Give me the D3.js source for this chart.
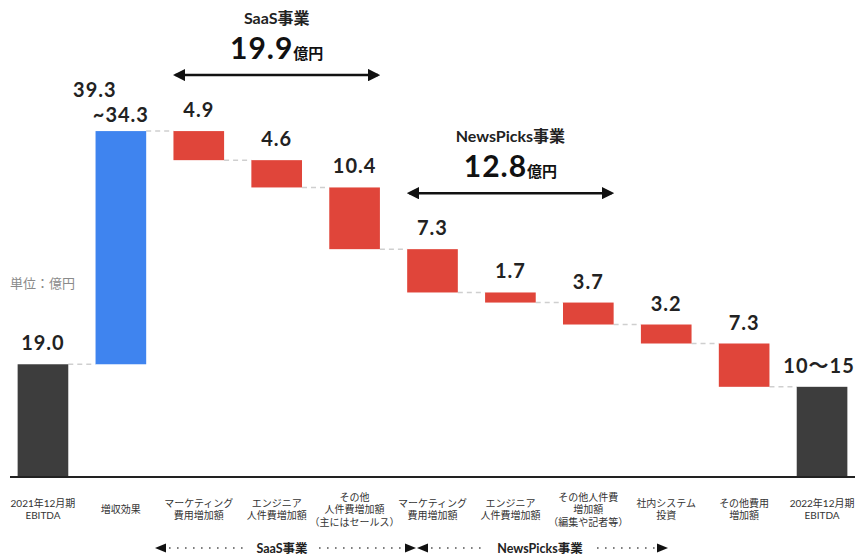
<!DOCTYPE html>
<html>
<head>
<meta charset="utf-8">
<script src="https://cdn.jsdelivr.net/npm/d3@7"></script>
<style>
  body { margin: 0; background: #fff; }
  text { font-family: "Lato", "Noto Sans CJK JP", sans-serif; }
</style>
</head>
<body>
<div id="chart"></div>
<script>
// category labels (one array per bar, one entry per line)
const categories = [
  ["2021年12月期", "EBITDA"],
  ["増収効果"],
  ["マーケティング", "費用増加額"],
  ["エンジニア", "人件費増加額"],
  ["その他", "人件費増加額", "（主にはセールス）"],
  ["マーケティング", "費用増加額"],
  ["エンジニア", "人件費増加額"],
  ["その他人件費", "増加額", "（編集や記者等）"],
  ["社内システム", "投資"],
  ["その他費用", "増加額"],
  ["2022年12月期", "EBITDA"]
];
// kind of each bar
const kinds = ["total", "up", "down", "down", "down", "down", "down", "down", "down", "down", "total"];
// change per bar (億円); first is the starting total, last is computed
const values = [19.0, 39.3, -4.9, -4.6, -10.4, -7.3, -1.7, -3.7, -3.2, -7.3, null];
// labels printed above bars
const valueLabels = [["19.0"], ["39.3", "~34.3"], ["4.9"], ["4.6"], ["10.4"], ["7.3"], ["1.7"], ["3.7"], ["3.2"], ["7.3"], ["10～15"]];

// segment annotations
const segments = [
  {name: "SaaS事業", total: "19.9", from: 2, to: 4},
  {name: "NewsPicks事業", total: "12.8", from: 5, to: 7}
];

let width = 858, height = 559;
let baseY = 477;

let svg = d3.select('#chart')
  .append('svg')
  .attr('width', width)
  .attr('height', height);

// running totals
let running = 0;
const bars = values.map((v, i) => {
  let start, end;
  if (kinds[i] === "total") {
    start = 0;
    end = v === null ? running : v;
    running = end;
  } else {
    start = running;
    end = running + v;
    running = end;
  }
  return {i, kind: kinds[i], start, end, label: valueLabels[i], cat: categories[i]};
});

let x = d3.scaleBand()
  .domain(d3.range(categories.length))
  .range([4, 861])
  .paddingInner(0.35)
  .paddingOuter(0.175);

let y = d3.scaleLinear()
  .domain([0, 60])
  .range([baseY, 121]);

const color = {total: "#3d3d3d", up: "#3f84ef", down: "#e0453a"};
const bw = x.bandwidth();

// connector lines
bars.slice(0, -1).forEach((d, i) => {
  svg.append('line')
    .attr('x1', x(i) + bw)
    .attr('x2', x(i + 1))
    .attr('y1', y(d.end))
    .attr('y2', y(d.end))
    .attr('stroke', '#cfcfcf')
    .attr('stroke-width', 1.5)
    .attr('stroke-dasharray', '5,4');
});

// bars
svg.selectAll('rect.bar')
  .data(bars)
  .enter()
  .append('rect')
  .attr('class', 'bar')
  .attr('x', d => x(d.i))
  .attr('y', d => y(Math.max(d.start, d.end)))
  .attr('width', bw)
  .attr('height', d => Math.abs(y(d.start) - y(d.end)))
  .attr('fill', d => color[d.kind]);

// baseline
svg.append('line')
  .attr('x1', 10).attr('x2', 855)
  .attr('y1', baseY).attr('y2', baseY)
  .attr('stroke', '#222')
  .attr('stroke-width', 2);

// value labels
function valueText(cx, ty, s) {
  svg.append('text')
    .attr('x', cx).attr('y', ty)
    .attr('text-anchor', 'middle')
    .attr('font-size', 20).attr('font-weight', 700).attr('fill', '#222')
    .attr('letter-spacing', 1)
    .text(s);
}
bars.forEach(d => {
  let top = y(Math.max(d.start, d.end));
  let cx = x(d.i) + bw / 2;
  if (d.label.length === 2) {
    valueText(cx - 26, top - 34, d.label[0]);
    valueText(cx, top - 9, d.label[1]);
  } else {
    valueText(cx - (d.i === bars.length - 1 ? 3 : 0), top - 14, d.label[0]);
  }
});

// unit note
svg.append('text')
  .attr('x', 10).attr('y', 288)
  .attr('font-size', 13).attr('fill', '#8a8a8a')
  .text('単位：億円');

// category labels
bars.forEach(d => {
  let n = d.cat.length;
  let t = svg.append('text')
    .attr('text-anchor', 'middle')
    .attr('font-size', 10)
    .attr('fill', '#333');
  d.cat.forEach((line, k) => {
    t.append('tspan')
      .attr('x', x(d.i) + bw / 2)
      .attr('y', 513 + (k - (n - 1) / 2) * 12.5)
      .text(line);
  });
});

// arrow markers
let defs = svg.append('defs');
defs.append('marker')
  .attr('id', 'ah')
  .attr('viewBox', '0 0 10 10')
  .attr('refX', 8).attr('refY', 5)
  .attr('markerWidth', 5).attr('markerHeight', 5)
  .attr('markerUnits', 'strokeWidth')
  .attr('orient', 'auto-start-reverse')
  .append('path')
  .attr('d', 'M0,0 L10,5 L0,10 z')
  .attr('fill', '#111');

// segment annotations above bars
segments.forEach(s => {
  let x1 = x(s.from), x2 = x(s.to) + bw;
  let ay = y(bars[s.from].start) - 56;
  let cx = (x1 + x2) / 2;
  svg.append('line')
    .attr('x1', x1 + 2).attr('x2', x2 - 2)
    .attr('y1', ay).attr('y2', ay)
    .attr('stroke', '#111').attr('stroke-width', 2.5)
    .attr('marker-start', 'url(#ah)')
    .attr('marker-end', 'url(#ah)');
  svg.append('text')
    .attr('x', cx).attr('y', ay - 51)
    .attr('text-anchor', 'middle')
    .attr('font-size', 16).attr('font-weight', 700).attr('fill', '#222')
    .text(s.name);
  let t = svg.append('text')
    .attr('x', cx).attr('y', ay - 16)
    .attr('text-anchor', 'middle')
    .attr('font-weight', 700).attr('fill', '#111');
  t.append('tspan').attr('font-size', 30).attr('letter-spacing', 1).text(s.total);
  t.append('tspan').attr('font-size', 15).text('億円');
});

// bottom segment legend: [left tip, right tip, text centre]
const legendPos = [[155, 416, 282], [417, 668, 540]];
let ly = 548;
function dots(xa, xb) {
  svg.append('line')
    .attr('x1', xa).attr('x2', xb)
    .attr('y1', ly).attr('y2', ly)
    .attr('stroke', '#555').attr('stroke-width', 1.6)
    .attr('stroke-dasharray', '1.6,6.4');
}
function tri(xp, dir) {
  svg.append('path')
    .attr('d', `M${xp},${ly} l${-dir * 11},-4.5 l0,9 z`)
    .attr('fill', '#111');
}
segments.forEach((s, k) => {
  let [x1, x2, cx] = legendPos[k];
  let tw = k === 0 ? 50 : 90;
  tri(x1, -1);
  dots(x1 + 14, cx - tw / 2 - 14);
  dots(cx + tw / 2 + 12, x2 - 10);
  tri(x2, 1);
  svg.append('text')
    .attr('x', cx).attr('y', ly + 4.5)
    .attr('text-anchor', 'middle')
    .attr('font-size', 12.5).attr('font-weight', 700).attr('fill', '#222')
    .text(s.name);
});
</script>
</body>
</html>
